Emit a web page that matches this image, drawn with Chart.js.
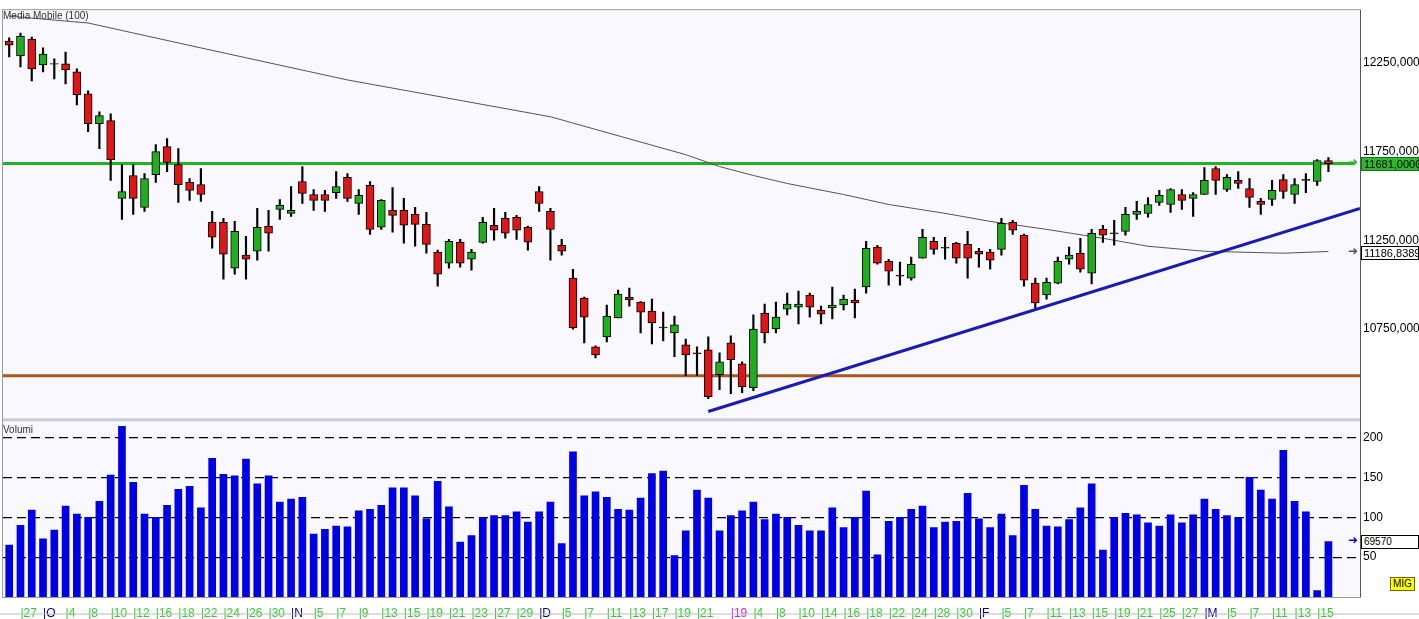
<!DOCTYPE html>
<html lang="it">
<head>
<meta charset="UTF-8">
<title>Grafico</title>
<script src="https://cdn.jsdelivr.net/npm/chart.js"></script>
<style>
  body { margin:0; background:#fff; font-family: "Liberation Sans", Arial, sans-serif; }
  #wrap { position:relative; width:1419px; height:619px; }
  .lbl { position:absolute; font-size:10px; color:#333; }
  .box { position:absolute; font-size:11px; line-height:12px; padding:0 2px; }
</style>
</head>
<body>
<div id="wrap">
  <canvas id="grafico" width="1419" height="619"></canvas>
  <div class="lbl" style="left:3px;top:10px;">Media Mobile (100)</div>
  <div class="lbl" style="left:3px;top:424px;">Volumi</div>
  <div class="box" style="left:1361px;top:157px;width:52px;background:#2db82d;border:1px solid #187018;color:#000;">11681,0000</div>
  <div class="box" style="left:1361px;top:246px;width:52px;background:#fff;border:1px solid #000;">11186,8389</div>
  <div class="box" style="left:1361px;top:535px;width:52px;background:#fff;border:1px solid #000;font-size:10px;">69570</div>
  <div class="box" style="left:1390px;top:577px;background:#ffff00;border:1px solid #806000;font-size:10px;">MIG</div>
  <div class="lbl" style="left:1348px;top:155px;color:#2db82d;font-size:12px;">➜</div>
  <div class="lbl" style="left:1348px;top:244px;color:#555;font-size:12px;">➜</div>
  <div class="lbl" style="left:1348px;top:533px;color:#0000e0;font-size:12px;">➜</div>
</div>

<script>
  // candele (O, H, L, C)
  const aperture = [12370,12286,12381,12235,12243,12241,12196,12073,11905,11922,11485,11614,11435,11619,11776,11675,11575,11563,11351,11351,11093,11166,11188,11328,11423,11401,11580,11507,11507,11518,11603,11457,11558,11323,11418,11418,11395,11339,11183,11121,11239,11143,11238,11334,11373,11379,11323,11524,11412,11222,11037,10925,10651,10707,10813,10930,10902,10852,10762,10729,10662,10611,10634,10494,10673,10555,10421,10841,10751,10863,10874,10942,10858,10869,10886,10914,10987,11211,11132,11048,11037,11149,11244,11205,11233,11227,11188,11183,11199,11351,11278,11009,10942,11009,11143,11177,11065,11311,11292,11300,11395,11401,11463,11451,11507,11485,11507,11653,11535,11586,11541,11468,11479,11591,11507,11586,11580,11698];
  const massimi = [12387,12415,12392,12331,12269,12308,12213,12090,11972,11961,11675,11675,11625,11787,11821,11765,11597,11653,11412,11373,11356,11272,11429,11418,11479,11552,11664,11535,11530,11636,11625,11535,11580,11479,11546,11485,11435,11407,11194,11255,11255,11199,11379,11429,11407,11390,11330,11552,11429,11255,11087,10930,10656,10886,10970,10981,10905,10919,10846,10824,10695,10651,10707,10617,10712,10567,10830,10891,10902,10953,10964,10953,10880,10986,10942,10975,11244,11222,11143,11127,11155,11311,11267,11267,11238,11300,11205,11199,11373,11362,11284,11037,11037,11155,11211,11261,11311,11334,11362,11435,11468,11490,11530,11541,11535,11518,11658,11664,11619,11636,11597,11485,11586,11619,11597,11625,11703,11714];
  const minimi = [12280,12224,12146,12196,12157,12129,12011,11860,11765,11586,11367,11395,11412,11575,11636,11463,11474,11468,11205,11031,11059,11031,11138,11188,11367,11384,11457,11418,11412,11485,11468,11395,11283,11311,11295,11233,11216,11177,10992,11093,11099,11082,11233,11250,11261,11255,11194,11412,11138,11166,10750,10673,10589,10679,10813,10880,10729,10667,10684,10595,10488,10488,10360,10410,10387,10393,10404,10673,10729,10830,10779,10818,10779,10807,10858,10813,10953,11115,10998,10998,11026,11149,11171,11143,11121,11037,11099,11087,11166,11283,10992,10863,10919,11004,11115,11071,11004,11238,11222,11278,11367,11379,11446,11407,11423,11384,11507,11507,11524,11541,11435,11395,11446,11485,11457,11518,11558,11636];
  const chiusure = [12347,12398,12213,12297,12239,12208,12067,11905,11950,11703,11524,11485,11597,11748,11687,11563,11530,11507,11267,11172,11300,11143,11323,11289,11446,11418,11513,11474,11474,11552,11485,11502,11311,11474,11390,11334,11339,11227,11059,11244,11121,11183,11351,11306,11289,11306,11239,11457,11311,11188,10757,10818,10606,10824,10948,10914,10846,10785,10757,10774,10606,10617,10370,10567,10578,10427,10751,10729,10818,10891,10891,10874,10835,10886,10919,10897,11205,11121,11076,11054,11115,11267,11199,11210,11149,11149,11171,11138,11345,11306,11026,10897,11014,11132,11166,11087,11289,11278,11286,11395,11412,11451,11502,11535,11474,11507,11586,11586,11603,11569,11490,11451,11530,11524,11563,11592,11698,11681];
  const volumi = [65,90,109,73,84,114,104,100,120,153,214,144,104,100,115,135,139,112,174,154,152,173,142,152,119,123,125,79,85,89,88,108,110,115,137,137,127,98,145,113,69,77,100,102,102,107,94,107,119,67,182,127,132,125,110,109,124,155,158,52,83,134,124,83,102,108,119,97,104,100,90,83,83,112,87,100,133,53,95,100,110,114,87,94,95,130,98,87,104,77,140,110,89,88,97,112,142,59,100,105,103,93,89,103,93,103,123,110,102,100,150,134,123,184,120,107,8,69.57];

  // media mobile (100), letta a intervalli
  const mediaIdx = [0,5,7,17,30,48,60,63,66,69,74,78,83,87,92,97,101,106,113,117];
  const mediaVal = [12510,12482,12471,12331,12151,11944,11731,11664,11614,11569,11507,11451,11401,11356,11311,11261,11216,11188,11177,11186.84];

  // livelli e trendline
  const livelloVerde = 11681;
  const livelloMarrone = 10488;
  const trendIdx = [62, 119.8];
  const trendVal = [10287, 11429];

  // etichette asse x
  const tickIdx = [1,3,5,7,9,11,13,15,17,19,21,23,25,27,29,31,33,35,37,39,41,43,45,47,49,51,53,55,57,59,61,64,66,68,70,72,74,76,78,80,82,84,86,88,90,92,94,96,98,100,102,104,106,108,110,112,114,116];
  const tickTesto = ["27","O","4","8","10","12","16","18","22","24","26","30","N","5","7","9","13","15","19","21","23","27","29","D","5","7","11","13","17","19","21","19","4","8","10","14","16","18","22","24","28","30","F","5","7","11","13","15","19","21","25","27","M","5","7","11","13","15"];
  const tickPrezzo = [10750, 11250, 11750, 12250];
  const tickVolume = [50, 100, 150, 200];

  const X_MIN = -0.55, X_MAX = 119.8;
  const idx = aperture.map((_, i) => i);

  function coloreCandela(i) {
    const d = chiusure[i] - aperture[i];
    if (Math.abs(d) <= 8) return '#202020';
    return d > 0 ? '#1fae1f' : '#e01515';
  }

  const sfondo = {
    id: 'sfondo',
    beforeDraw(chart) {
      const { ctx, chartArea: a } = chart;
      ctx.save();
      ctx.fillStyle = '#f8f8fe';
      ctx.fillRect(a.left, a.top, a.right - a.left, a.bottom - a.top);
      ctx.restore();
    },
    afterDraw(chart) {
      const { ctx, chartArea: a, scales } = chart;
      ctx.save();
      ctx.strokeStyle = '#9a9a9a';
      ctx.lineWidth = 1;
      ctx.strokeRect(a.left - 0.5, a.top - 0.5, a.right - a.left + 1, a.bottom - a.top + 1);
      ctx.strokeStyle = '#c8ccd4';
      ctx.lineWidth = 3;
      const ySep = scales.y.bottom + 1;
      ctx.beginPath(); ctx.moveTo(a.left, ySep); ctx.lineTo(a.right, ySep); ctx.stroke();
      ctx.strokeStyle = '#555';
      ctx.lineWidth = 1;
      ctx.beginPath(); ctx.moveTo(a.right + 0.5, a.top); ctx.lineTo(a.right + 0.5, a.bottom); ctx.stroke();
      ctx.strokeStyle = '#bbb';
      ctx.beginPath(); ctx.moveTo(0, 614); ctx.lineTo(1419, 614); ctx.stroke();
      ctx.restore();
    }
  };

  new Chart(document.getElementById('grafico'), {
    data: {
      datasets: [
        {
          type: 'line', order: 0,
          data: trendIdx.map((x, i) => ({ x, y: trendVal[i] })),
          borderColor: '#1a1ab4', borderWidth: 3, pointRadius: 0, yAxisID: 'y'
        },
        {
          type: 'bar', order: 2, grouped: false,
          data: idx.map(i => ({ x: i, y: [aperture[i], chiusure[i]] })),
          backgroundColor: idx.map(coloreCandela),
          borderColor: '#000', borderWidth: 1, borderSkipped: false,
          barThickness: 8, yAxisID: 'y'
        },
        {
          type: 'bar', order: 3, grouped: false,
          data: idx.map(i => ({ x: i, y: [minimi[i], massimi[i]] })),
          backgroundColor: '#000', barThickness: 1.5, yAxisID: 'y'
        },
        {
          type: 'bar', order: 3, grouped: false,
          data: idx.map(i => ({ x: i, y: volumi[i] })),
          backgroundColor: '#0000e6', barThickness: 7, yAxisID: 'yv'
        },
        {
          type: 'line', order: 4,
          data: mediaIdx.map((x, i) => ({ x, y: mediaVal[i] })),
          borderColor: '#555', borderWidth: 1, pointRadius: 0, yAxisID: 'y'
        },
        {
          type: 'line', order: 5,
          data: [{ x: X_MIN, y: livelloVerde }, { x: X_MAX - 0.5, y: livelloVerde }],
          borderColor: '#24b224', borderWidth: 3, pointRadius: 0, yAxisID: 'y'
        },
        {
          type: 'line', order: 5,
          data: [{ x: X_MIN, y: livelloMarrone }, { x: X_MAX, y: livelloMarrone }],
          borderColor: '#a8581c', borderWidth: 3, pointRadius: 0, yAxisID: 'y'
        }
      ]
    },
    options: {
      responsive: false,
      animation: false,
      layout: { padding: { left: 3, top: 8, right: 0, bottom: 0 } },
      plugins: { legend: { display: false }, tooltip: { enabled: false } },
      scales: {
        x: {
          type: 'linear', min: X_MIN, max: X_MAX, offset: false,
          grid: { display: false, offset: false }, border: { display: false },
          afterBuildTicks: s => { s.ticks = tickIdx.map(v => ({ value: v })); },
          afterFit: s => { s.height = 22; },
          ticks: {
            autoSkip: false, maxRotation: 0, align: 'start', padding: 1,
            font: { size: 12 },
            callback: v => '|' + tickTesto[tickIdx.indexOf(v)],
            color: c => {
              const t = tickTesto[tickIdx.indexOf(c.tick.value)];
              if (c.tick.value === 64) return '#e020e0';
              return /^[A-Z]$/.test(t) ? '#000080' : '#33cc33';
            }
          }
        },
        y: {
          position: 'right', stack: 'pannelli', stackWeight: 410,
          min: 10247, max: 12543,
          grid: { display: false, drawTicks: false }, border: { display: false },
          afterBuildTicks: s => { s.ticks = tickPrezzo.map(v => ({ value: v })); },
          afterFit: s => { s.width = 59; },
          ticks: {
            padding: 3, color: '#000', font: { size: 12 },
            callback: v => v.toFixed(3).replace('.', ',')
          }
        },
        yv: {
          position: 'right', stack: 'pannelli', stackWeight: 179,
          min: 0, max: 223.75,
          grid: { color: '#000', lineWidth: 1.2, drawTicks: false },
          border: { display: false, dash: [9, 5] },
          afterBuildTicks: s => { s.ticks = tickVolume.map(v => ({ value: v })); },
          afterFit: s => { s.width = 59; },
          ticks: { padding: 3, color: '#000', font: { size: 12 } }
        }
      }
    },
    plugins: [sfondo]
  });
</script>
</body>
</html>
